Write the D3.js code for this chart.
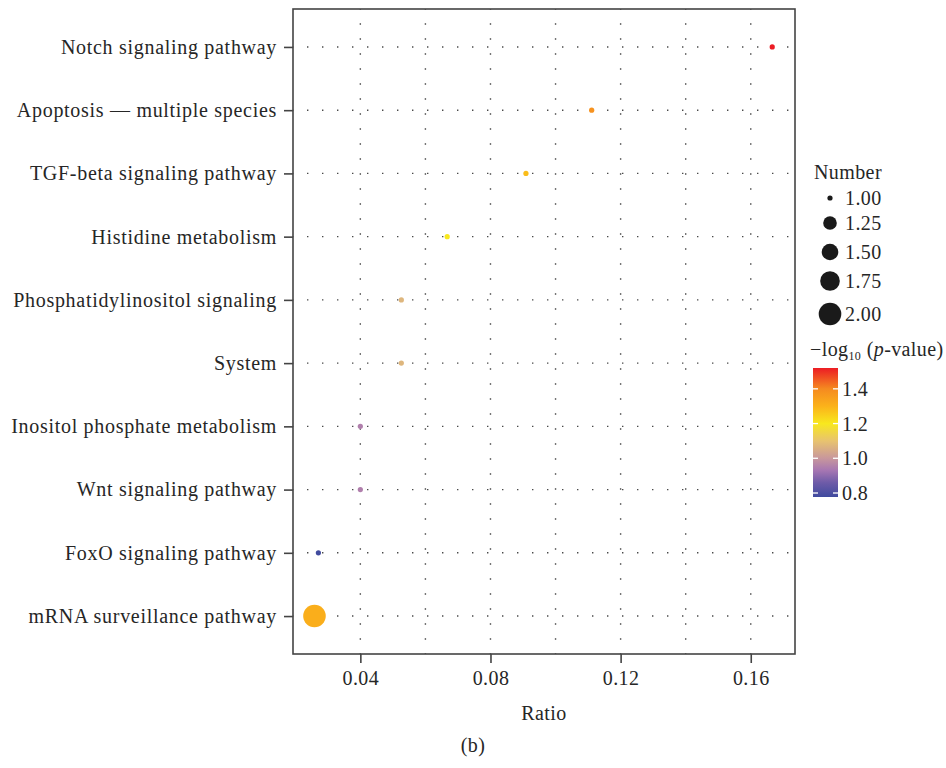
<!DOCTYPE html>
<html>
<head>
<meta charset="utf-8">
<script src="https://cdn.jsdelivr.net/npm/d3@7"></script>
<style>
	body { margin: 0; background: #fff; }
	svg text { font-family: "Liberation Serif", "DejaVu Serif", serif; fill: #262626; letter-spacing: 0.4px; }
</style>
</head>
<body>
<div id="chart"></div>
<script>
// pathways, top to bottom
var pathways = ["Notch signaling pathway", "Apoptosis \u2014 multiple species", "TGF-beta signaling pathway",
	"Histidine metabolism", "Phosphatidylinositol signaling", "System", "Inositol phosphate metabolism",
	"Wnt signaling pathway", "FoxO signaling pathway", "mRNA surveillance pathway"];
var ratios = [0.1666, 0.1111, 0.0909, 0.0667, 0.0526, 0.0526, 0.0400, 0.0400, 0.0271, 0.0259];
var numbers = [1, 1, 1, 1, 1, 1, 1, 1, 1, 2];
var logP = [1.52, 1.38, 1.28, 1.20, 1.07, 1.07, 0.95, 0.95, 0.78, 1.31];

var xTicks = [0.04, 0.08, 0.12, 0.16];
var xGrid = [0.04, 0.06, 0.08, 0.10, 0.12, 0.14, 0.16];
var sizeBreaks = [1.00, 1.25, 1.50, 1.75, 2.00];
var colorTicks = [0.8, 1.0, 1.2, 1.4];

var svg = d3.select('#chart').append('svg')
	.attr('width', 946)
	.attr('height', 768);

var pLeft = 293, pRight = 795, pTop = 9, pBottom = 654;

var x = d3.scaleLinear()
	.domain([0.0193, 0.1736])
	.range([pLeft, pRight]);

var y = d3.scalePoint()
	.domain(pathways)
	.range([pTop, pBottom])
	.padding(0.6);

var r = d3.scaleLinear()
	.domain([1, 1.25, 2])
	.range([2.6, 6.8, 11.3]);

var colorStops = [
	[0.777, '#3f4a9e'], [0.86, '#6e5ba8'], [0.93, '#a676b2'], [1.0, '#c8979c'],
	[1.1, '#e8c36f'], [1.2, '#f8e81e'], [1.3, '#fbb21a'], [1.4, '#f58a20'], [1.52, '#ec1c24']
];
var color = d3.scaleLinear()
	.domain(colorStops.map(function(d) { return d[0]; }))
	.range(colorStops.map(function(d) { return d[1]; }))
	.clamp(true);

// grid
svg.append('g')
	.selectAll('line')
	.data(xGrid)
	.enter()
	.append('line')
	.attr('x1', function(d) { return x(d); })
	.attr('x2', function(d) { return x(d); })
	.attr('y1', pBottom)
	.attr('y2', pTop)
	.attr('stroke', '#4a4a4a')
	.attr('stroke-width', 1.4)
	.attr('stroke-dasharray', '1.4,13.6')
	.attr('stroke-dashoffset', -14.3);

svg.append('g')
	.selectAll('line')
	.data(pathways)
	.enter()
	.append('line')
	.attr('x1', pLeft)
	.attr('x2', pRight)
	.attr('y1', function(d) { return y(d); })
	.attr('y2', function(d) { return y(d); })
	.attr('stroke', '#4a4a4a')
	.attr('stroke-width', 1.4)
	.attr('stroke-dasharray', '1.4,13.6')
	.attr('stroke-dashoffset', -14);

// points
svg.append('g')
	.selectAll('circle')
	.data(pathways)
	.enter()
	.append('circle')
	.attr('cx', function(d, i) { return x(ratios[i]); })
	.attr('cy', function(d) { return y(d); })
	.attr('r', function(d, i) { return r(numbers[i]); })
	.attr('fill', function(d, i) { return color(logP[i]); });

// panel border
svg.append('rect')
	.attr('x', pLeft)
	.attr('y', pTop)
	.attr('width', pRight - pLeft)
	.attr('height', pBottom - pTop)
	.attr('fill', 'none')
	.attr('stroke', '#444')
	.attr('stroke-width', 1.6);

// axes
var xAxis = svg.append('g')
	.attr('transform', 'translate(0,' + pBottom + ')')
	.call(d3.axisBottom(x).tickValues(xTicks).tickSize(9).tickPadding(8).tickFormat(d3.format('.2f')));
xAxis.select('.domain').remove();
xAxis.selectAll('line').attr('stroke', '#444').attr('stroke-width', 1.6);
xAxis.selectAll('text').attr('font-size', '20px').attr('fill', '#262626')
	.attr('font-family', '"Liberation Serif", serif');

var yAxis = svg.append('g')
	.attr('transform', 'translate(' + pLeft + ',0)')
	.call(d3.axisLeft(y).tickSize(9).tickPadding(7));
yAxis.select('.domain').remove();
yAxis.selectAll('line').attr('stroke', '#444').attr('stroke-width', 1.6);
yAxis.selectAll('text').attr('font-size', '20px').attr('fill', '#262626')
	.attr('font-family', '"Liberation Serif", serif')
	.style('letter-spacing', '0.7px');

svg.append('text')
	.attr('x', (pLeft + pRight) / 2)
	.attr('y', 720)
	.attr('text-anchor', 'middle')
	.attr('font-size', '20px')
	.text('Ratio');

svg.append('text')
	.attr('x', 473)
	.attr('y', 752)
	.attr('text-anchor', 'middle')
	.attr('font-size', '20px')
	.text('(b)');

// size legend
svg.append('text')
	.attr('x', 814)
	.attr('y', 179)
	.attr('font-size', '20px')
	.text('Number');

var sizeY = d3.scaleOrdinal()
	.domain(sizeBreaks)
	.range([198, 223, 252, 281, 314]);

var sizeLegend = svg.append('g');
sizeLegend.selectAll('circle')
	.data(sizeBreaks)
	.enter()
	.append('circle')
	.attr('cx', 830)
	.attr('cy', function(d) { return sizeY(d); })
	.attr('r', function(d) { return r(d); })
	.attr('fill', '#1a1a1a');
sizeLegend.selectAll('text')
	.data(sizeBreaks)
	.enter()
	.append('text')
	.attr('x', 845)
	.attr('y', function(d) { return sizeY(d) + 7; })
	.attr('font-size', '20px')
	.text(function(d) { return d3.format('.2f')(d); });

// colour legend
var title = svg.append('text')
	.attr('x', 810)
	.attr('y', 356)
	.attr('font-size', '20px');
title.append('tspan').text('\u2212log');
title.append('tspan').attr('font-size', '12px').attr('dy', 4).text('10');
title.append('tspan').attr('dy', -4).text(' (');
title.append('tspan').attr('font-style', 'italic').text('p');
title.append('tspan').text('-value)');

var barTop = 368, barBottom = 497, barLeft = 813, barWidth = 25;
var cScale = d3.scaleLinear()
	.domain([0.777, 1.52])
	.range([barBottom, barTop]);

var grad = svg.append('defs').append('linearGradient')
	.attr('id', 'pgrad')
	.attr('x1', 0).attr('x2', 0).attr('y1', 1).attr('y2', 0);
grad.selectAll('stop')
	.data(colorStops)
	.enter()
	.append('stop')
	.attr('offset', function(d) { return (d[0] - 0.777) / (1.52 - 0.777); })
	.attr('stop-color', function(d) { return d[1]; });

svg.append('rect')
	.attr('x', barLeft)
	.attr('y', barTop)
	.attr('width', barWidth)
	.attr('height', barBottom - barTop)
	.attr('fill', 'url(#pgrad)');

var cTicks = svg.append('g');
cTicks.selectAll('line.l')
	.data(colorTicks)
	.enter()
	.append('line')
	.attr('x1', barLeft)
	.attr('x2', barLeft + 5)
	.attr('y1', function(d) { return cScale(d); })
	.attr('y2', function(d) { return cScale(d); })
	.attr('stroke', '#fff')
	.attr('stroke-width', 1.3);
cTicks.selectAll('line.r')
	.data(colorTicks)
	.enter()
	.append('line')
	.attr('x1', barLeft + barWidth - 5)
	.attr('x2', barLeft + barWidth)
	.attr('y1', function(d) { return cScale(d); })
	.attr('y2', function(d) { return cScale(d); })
	.attr('stroke', '#fff')
	.attr('stroke-width', 1.3);
cTicks.selectAll('text')
	.data(colorTicks)
	.enter()
	.append('text')
	.attr('x', 842)
	.attr('y', function(d) { return cScale(d) + 7; })
	.attr('font-size', '20px')
	.text(function(d) { return d3.format('.1f')(d); });
</script>
</body>
</html>
